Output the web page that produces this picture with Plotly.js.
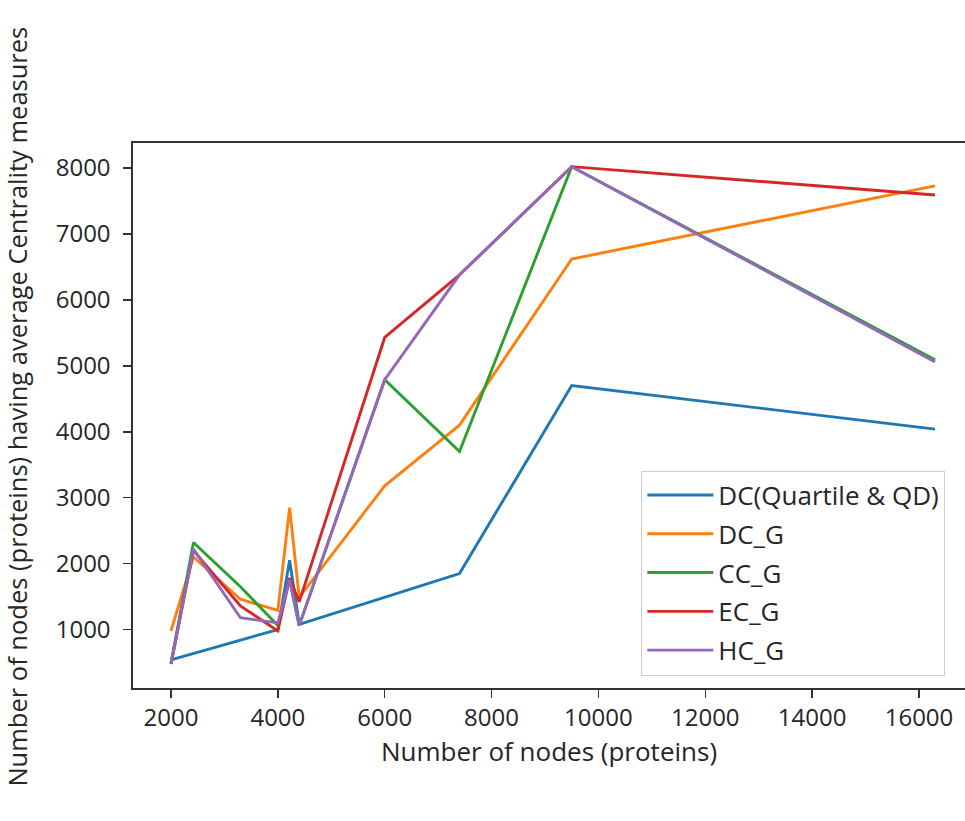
<!DOCTYPE html>
<html>
<head>
<meta charset="utf-8">
<script src="https://cdn.plot.ly/plotly-3.0.1.min.js"></script>
<style>html,body{margin:0;padding:0;background:#fff;overflow:hidden}#chart{width:965px;height:821px}</style>
</head>
<body>
<div id="chart"></div>
<script>
const nodes = [2000, 2420, 3300, 4000, 4220, 4400, 6000, 7400, 9500, 16300];
const seriesNames = ["DC(Quartile & QD)", "DC_G", "CC_G", "EC_G", "HC_G"];
const dcQuartile = [540, null, null, 1000, 2050, 1080, null, 1850, 4700, 4040];
const dcG = [980, 2100, 1460, 1290, 2850, 1490, 3180, 4100, 6620, 7730];
const ccG = [480, 2320, 1650, 1060, 1760, 1060, 4790, 3700, 8020, 5090];
const ecG = [480, 2200, 1360, 980, 1780, 1420, 5430, 6380, 8020, 7590];
const hcG = [480, 2220, 1180, 1100, 1750, 1060, 4790, 6380, 8020, 5060];
const xTitle = "Number of nodes (proteins)";
const yTitle = "Number of nodes (proteins) having average Centrality measures";
const colors = ["#1f77b4", "#ff7f0e", "#2ca02c", "#d62728", "#9467bd"];
const allSeries = [dcQuartile, dcG, ccG, ecG, hcG];

const traces = allSeries.map((vals, i) => ({
  x: nodes,
  y: vals,
  name: seriesNames[i],
  type: "scatter",
  mode: "lines",
  connectgaps: true,
  legendgroup: "g" + i,
  line: {color: colors[i], width: 2.9}
}));

const font = {family: "Open Sans, Noto Sans, sans-serif", color: "#262626"};
const layout = {
  width: 965, height: 821,
  margin: {l: 133, r: 0, t: 143, b: 133},
  paper_bgcolor: "#fff", plot_bgcolor: "#fff",
  font: Object.assign({size: 24}, font),
  showlegend: true,
  legend: {
    x: 0.611, y: 0.399, xanchor: "left", yanchor: "top",
    bgcolor: "rgba(255,255,255,0.9)", bordercolor: "#cccccc", borderwidth: 1,
    font: Object.assign({size: 26}, font),
    traceorder: "grouped", tracegroupgap: 2,
    itemwidth: 66
  },
  xaxis: {
    range: [1289, 16861],
    tickvals: [2000, 4000, 6000, 8000, 10000, 12000, 14000, 16000],
    ticktext: ["2000", "4000", "6000", "8000", "10000", "12000", "14000", "16000"],
    showgrid: false, zeroline: false,
    showline: true, mirror: true, linecolor: "#333", linewidth: 1.6,
    ticks: "outside", ticklen: 8, tickwidth: 1.5, tickcolor: "#333",
    tickfont: Object.assign({size: 24}, font),
    title: {text: xTitle, font: Object.assign({size: 26}, font), standoff: 9}
  },
  yaxis: {
    range: [114, 8379],
    tickvals: [1000, 2000, 3000, 4000, 5000, 6000, 7000, 8000],
    ticktext: ["1000", "2000", "3000", "4000", "5000", "6000", "7000", "8000"],
    showgrid: false, zeroline: false,
    showline: true, mirror: false, linecolor: "#333", linewidth: 1.6,
    ticks: "outside", ticklen: 8, tickwidth: 1.5, tickcolor: "#333",
    ticklabelstandoff: 8,
    tickfont: Object.assign({size: 24}, font)
  },
  annotations: [{
    text: yTitle, textangle: -90, showarrow: false,
    xref: "paper", yref: "paper", x: -0.139, y: 0.517,
    xanchor: "center", yanchor: "middle",
    font: Object.assign({size: 25.5}, font)
  }]
};
Plotly.newPlot("chart", traces, layout, {displayModeBar: false, staticPlot: true});
</script>
</body>
</html>
